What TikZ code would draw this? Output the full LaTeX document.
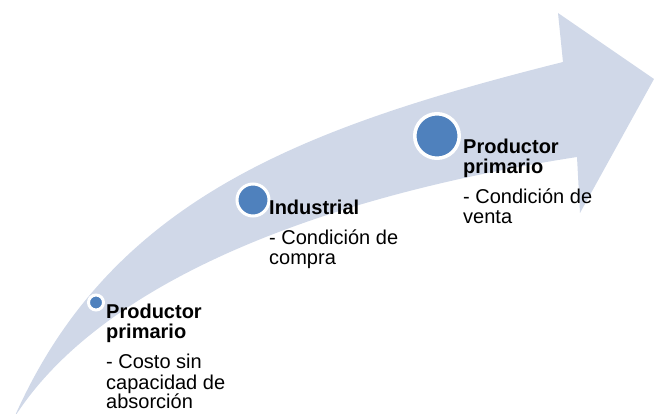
\documentclass[tikz,border=0pt]{standalone}
\usepackage{fontspec}
\setmainfont{Liberation Sans}
\definecolor{arrowfill}{HTML}{D0D8E8}
\definecolor{dotblue}{HTML}{4F81BD}
\begin{document}
\begin{tikzpicture}[x=1pt,y=-1pt,
  lbl/.style={anchor=base west, inner sep=0pt, font=\fontsize{20}{20}\selectfont},
  hd/.style={anchor=base west, inner sep=0pt, font=\fontsize{20}{20}\selectfont\bfseries},
  dot/.style={circle, fill=dotblue, draw=white, inner sep=0pt}]
\useasboundingbox (0,0) rectangle (654,414);
\clip (0,0) rectangle (654,414);
% curved arrow
\fill[arrowfill] (14,418) .. controls (110,200) and (300,128) .. (563,62)
  -- (558,13) -- (654,79) -- (580,213) -- (577,157)
  .. controls (300,200) and (95,290) .. (14,418) -- cycle;
% dots
\node[dot, line width=3pt, minimum size=15pt] (d1) at (96,302.5) {};
\node[dot, line width=3pt, minimum size=32pt] (d2) at (253,200) {};
\node[dot, line width=3.5pt, minimum size=44.5pt] (d3) at (437,136) {};
% block 1
\node[hd]  (a1) at (106,318.5) {Productor};
\node[hd]  (a2) at (106,339) {primario};
\node[lbl] (a3) at (106,369) {- Costo sin};
\node[lbl] (a4) at (106,389) {capacidad de};
\node[lbl] (a5) at (106,409) {absorción};
% block 2
\node[hd]  (b1) at (269,214.5) {Industrial};
\node[lbl] (b2) at (269,244.5) {- Condición de};
\node[lbl] (b3) at (269,264.5) {compra};
% block 3
\node[hd]  (c1) at (463,154) {Productor};
\node[hd]  (c2) at (463,174) {primario};
\node[lbl] (c3) at (463,204) {- Condición de};
\node[lbl] (c4) at (463,224) {venta};
\end{tikzpicture}
\end{document}
